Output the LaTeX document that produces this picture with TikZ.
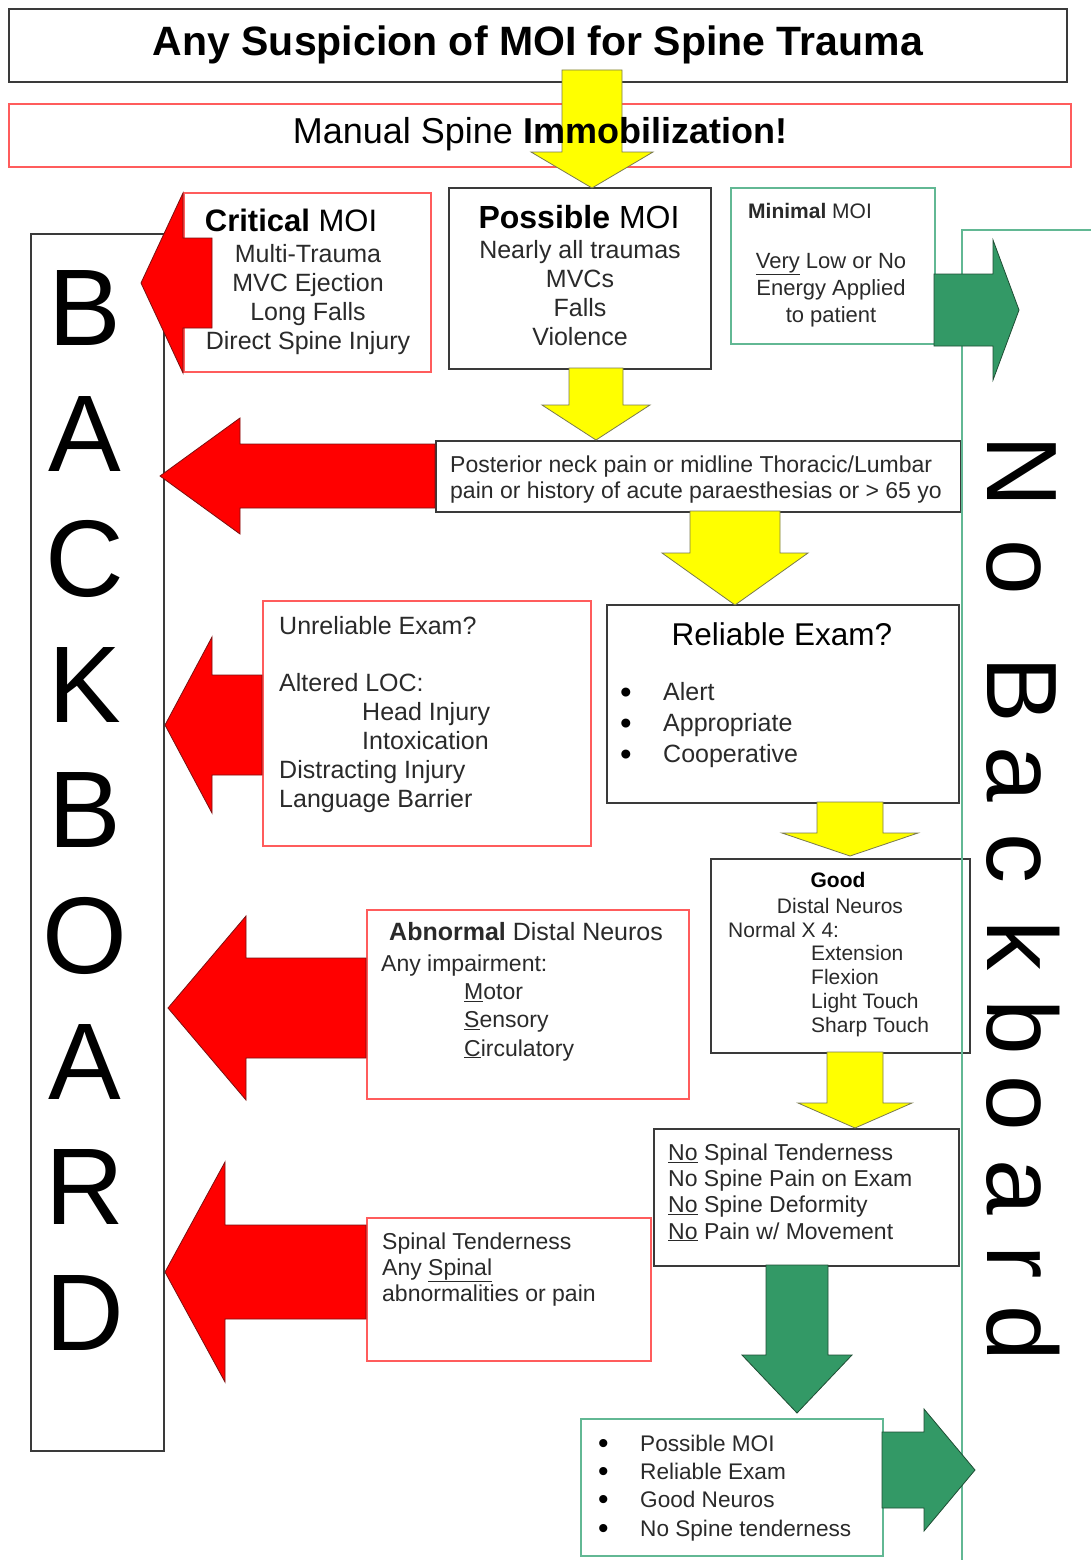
\documentclass[tikz,border=0pt]{standalone}
\usepackage{fontspec}
\setmainfont{Liberation Sans}
\setsansfont{Liberation Sans}
\definecolor{boxgray}{HTML}{3A3A3A}
\definecolor{boxred}{HTML}{FF5C5C}
\definecolor{boxgreen}{HTML}{62B894}
\definecolor{arryellow}{HTML}{FFFF00}
\definecolor{arrgray}{HTML}{7A7A50}
\definecolor{darkred}{HTML}{7A1010}
\definecolor{arrgreen}{HTML}{339966}
\definecolor{darkgreen}{HTML}{1E4D33}
\definecolor{txtgray}{HTML}{2A2A2A}
\newcommand\fsz[2]{\fontsize{#1}{#2}\selectfont}
\newcommand\BlockDown[7]{\draw[#1] ({#2-#4},#3) -- ({#2+#4},#3) -- ({#2+#4},#5) -- ({#2+#6},#5) -- (#2,#7) -- ({#2-#6},#5) -- ({#2-#4},#5) -- cycle;}
\newcommand\BlockSide[7]{\draw[#1] (#3,{#2-#4}) -- (#3,{#2+#4}) -- (#5,{#2+#4}) -- (#5,{#2+#6}) -- (#7,#2) -- (#5,{#2-#6}) -- (#5,{#2-#4}) -- cycle;}
\newcommand\MkBox[6]{\node[#1, anchor=north west, minimum width={#5-#3}, minimum height={#6-#4}, inner sep=0pt] (#2) at (#3,#4) {};}
\tikzset{
  bk/.style={draw=boxgray, line width=1.6pt},
  rd/.style={draw=boxred, line width=1.6pt},
  gn/.style={draw=boxgreen, line width=1.6pt},
  yarr/.style={fill=arryellow, draw=arrgray, line width=0.8pt, line join=miter},
  rarr/.style={fill=red, draw=darkred, line width=0.8pt},
  garr/.style={fill=arrgreen, draw=darkgreen, line width=0.8pt},
  tx/.style={inner sep=0pt, text=txtgray},
  bul/.style={inner sep=0pt, text=black, anchor=base west, align=left},
  bigl/.style={inner sep=0pt, anchor=base, font=\fsz{109}{109}},
  sidel/.style={inner sep=0pt, anchor=base, rotate=-90, font=\fsz{100}{100}},
}
\begin{document}
\begin{tikzpicture}[x=1pt,y=-1pt]
\useasboundingbox[fill=white] (0,0) rectangle (1090,1560);
% boxes
\MkBox{bk}{title}{8}{8}{1066}{81}
\MkBox{rd}{manual}{8}{103}{1070}{166}
\MkBox{rd}{critical}{183}{192}{430}{371}
\MkBox{bk}{possible}{448}{187}{710}{368}
\MkBox{gn}{minimal}{730}{187}{934}{343}
\MkBox{bk}{backboard}{30}{233}{163}{1450}
\MkBox{bk}{posterior}{435}{440}{960}{511}
\MkBox{rd}{unreliable}{262}{600}{590}{845}
\MkBox{bk}{reliable}{606}{604}{958}{802}
\MkBox{bk}{good}{710}{858}{969}{1052}
\MkBox{rd}{abnormal}{366}{909}{688}{1098}
\MkBox{bk}{nospinal}{653}{1128}{958}{1265}
\MkBox{rd}{tender}{366}{1217}{650}{1360}
\MkBox{gn}{final}{580}{1418}{882}{1555}
% No Backboard frame
\coordinate (nbbot) at (962,1562);
\coordinate (nbcorner) at (962,230);
\coordinate (nbright) at (1092,230);
\draw[draw=boxgreen, line width=2pt] (nbbot) -- (nbcorner) -- (nbright);
% yellow arrows
\BlockDown{yarr}{592}{70}{30}{152}{61}{188}
\BlockDown{yarr}{596}{368}{27}{405}{54}{440}
\BlockDown{yarr}{735}{511}{45}{553}{73}{605}
\BlockDown{yarr}{850}{802}{33}{833}{68}{856}
\BlockDown{yarr}{855}{1052}{28}{1103}{57}{1128}
% green arrows
\BlockDown{garr}{797}{1265}{31}{1355}{55}{1413}
\BlockSide{garr}{310}{934}{36}{993}{70}{1019}
\BlockSide{garr}{1470}{882}{38}{924}{61}{975}
% red arrows
\BlockSide{rarr}{283}{212}{45}{183}{90}{141}
\BlockSide{rarr}{476}{435}{32}{240}{58}{160}
\BlockSide{rarr}{725}{262}{50}{212}{88}{165}
\BlockSide{rarr}{1008}{366}{50}{246}{92}{168}
\BlockSide{rarr}{1272}{366}{47}{225}{110}{165}
% texts (multi-line nodes: base = baseline of the last line)
\node[tx, font=\fsz{41}{41}\bfseries, text=black] (ttitle) at (title.center) {Any Suspicion of MOI for Spine Trauma};
\node[tx, font=\fsz{36}{36}, text=black] (tmanual) at (540,134) {Manual Spine \textbf{Immobilization!}};
\node[tx, anchor=base, font=\fsz{31}{31}, text=black] (tcrit) at (291,231) {\textbf{Critical} MOI};
\node[tx, anchor=base, align=center, font=\fsz{25}{28.7}] (tcritb) at (308,349) {Multi-Trauma\\MVC Ejection\\Long Falls\\Direct Spine Injury};
\node[tx, anchor=base, font=\fsz{32}{32}, text=black] (tposs) at (579,228) {\textbf{Possible} MOI};
\node[tx, anchor=base, align=center, font=\fsz{25}{29}] (tpossb) at (580,345) {Nearly all traumas\\MVCs\\Falls\\Violence};
\node[tx, anchor=base west, font=\fsz{21}{21}] (tmin) at (748,218) {\textbf{Minimal} MOI};
\node[tx, anchor=base, align=center, font=\fsz{22}{27}] (tminb) at (831,322.5) {\underline{Very} Low or No\\Energy Applied\\to patient};
\node[tx, anchor=base west, align=left, font=\fsz{23}{26}] (tpost) at (450,498) {Posterior neck pain or midline Thoracic/Lumbar\\pain or history of acute paraesthesias or {>} 65 yo};
\node[tx, anchor=base west, align=left, font=\fsz{25}{28.8}] (tunrel) at (279,807) {Unreliable Exam?\\[28.8pt]Altered LOC:\\\hspace*{83pt}Head Injury\\\hspace*{83pt}Intoxication\\Distracting Injury\\Language Barrier};
\node[tx, anchor=base, font=\fsz{31.5}{31.5}, text=black] (trel) at (782,645) {Reliable Exam?};
\node[bul, font=\fsz{33}{31}] (trelbul) at (620,765) {•\\•\\•};
\node[tx, anchor=base west, align=left, font=\fsz{25}{31}] (trelb) at (663,762.5) {Alert\\Appropriate\\Cooperative};
\node[tx, anchor=base, font=\fsz{21}{21}\bfseries, text=black] (tgood) at (838,887) {Good};
\node[tx, anchor=base, font=\fsz{21}{21}] (tgoodd) at (840,913) {Distal Neuros};
\node[tx, anchor=base west, align=left, font=\fsz{21}{23.7}] (tgoodb) at (728,1032) {Normal X 4:\\\hspace*{83pt}Extension\\\hspace*{83pt}Flexion\\\hspace*{83pt}Light Touch\\\hspace*{83pt}Sharp Touch};
\node[tx, anchor=base west, font=\fsz{25}{25}] (tabn) at (389,940) {\textbf{Abnormal} Distal Neuros};
\node[tx, anchor=base west, align=left, font=\fsz{23}{28.3}] (tabnb) at (381,1056) {Any impairment:\\\hspace*{83pt}\underline{M}otor\\\hspace*{83pt}\underline{S}ensory\\\hspace*{83pt}\underline{C}irculatory};
\node[tx, anchor=base west, align=left, font=\fsz{23}{26.3}] (tnosp) at (668,1239) {\underline{No} Spinal Tenderness\\No Spine Pain on Exam\\\underline{No} Spine Deformity\\\underline{No} Pain w/ Movement};
\node[tx, anchor=base west, align=left, font=\fsz{23}{26}] (ttend) at (382,1301) {Spinal Tenderness\\Any \underline{Spinal}\\abnormalities or pain};
\node[bul, font=\fsz{30}{28.3}] (tfinbul) at (598,1538) {•\\•\\•\\•};
\node[tx, anchor=base west, align=left, font=\fsz{22.6}{28.3}] (tfin) at (640,1536) {Possible MOI\\Reliable Exam\\Good Neuros\\No Spine tenderness};
% BACKBOARD
\foreach \l/\yy [count=\i] in {B/345,A/471,C/596,K/722,B/847,O/973,A/1099,R/1224,D/1350}
  \node[bigl] (bb\i) at (85,\yy) {\l};
% No Backboard
\foreach \l/\yy [count=\i] in {N/472,o/567,B/690,a/774,c/858,k/945,b/1027,o/1103,a/1187,r/1262,d/1333}
  \node[sidel] (nb\i) at (987,\yy) {\l};
\end{tikzpicture}
\end{document}
